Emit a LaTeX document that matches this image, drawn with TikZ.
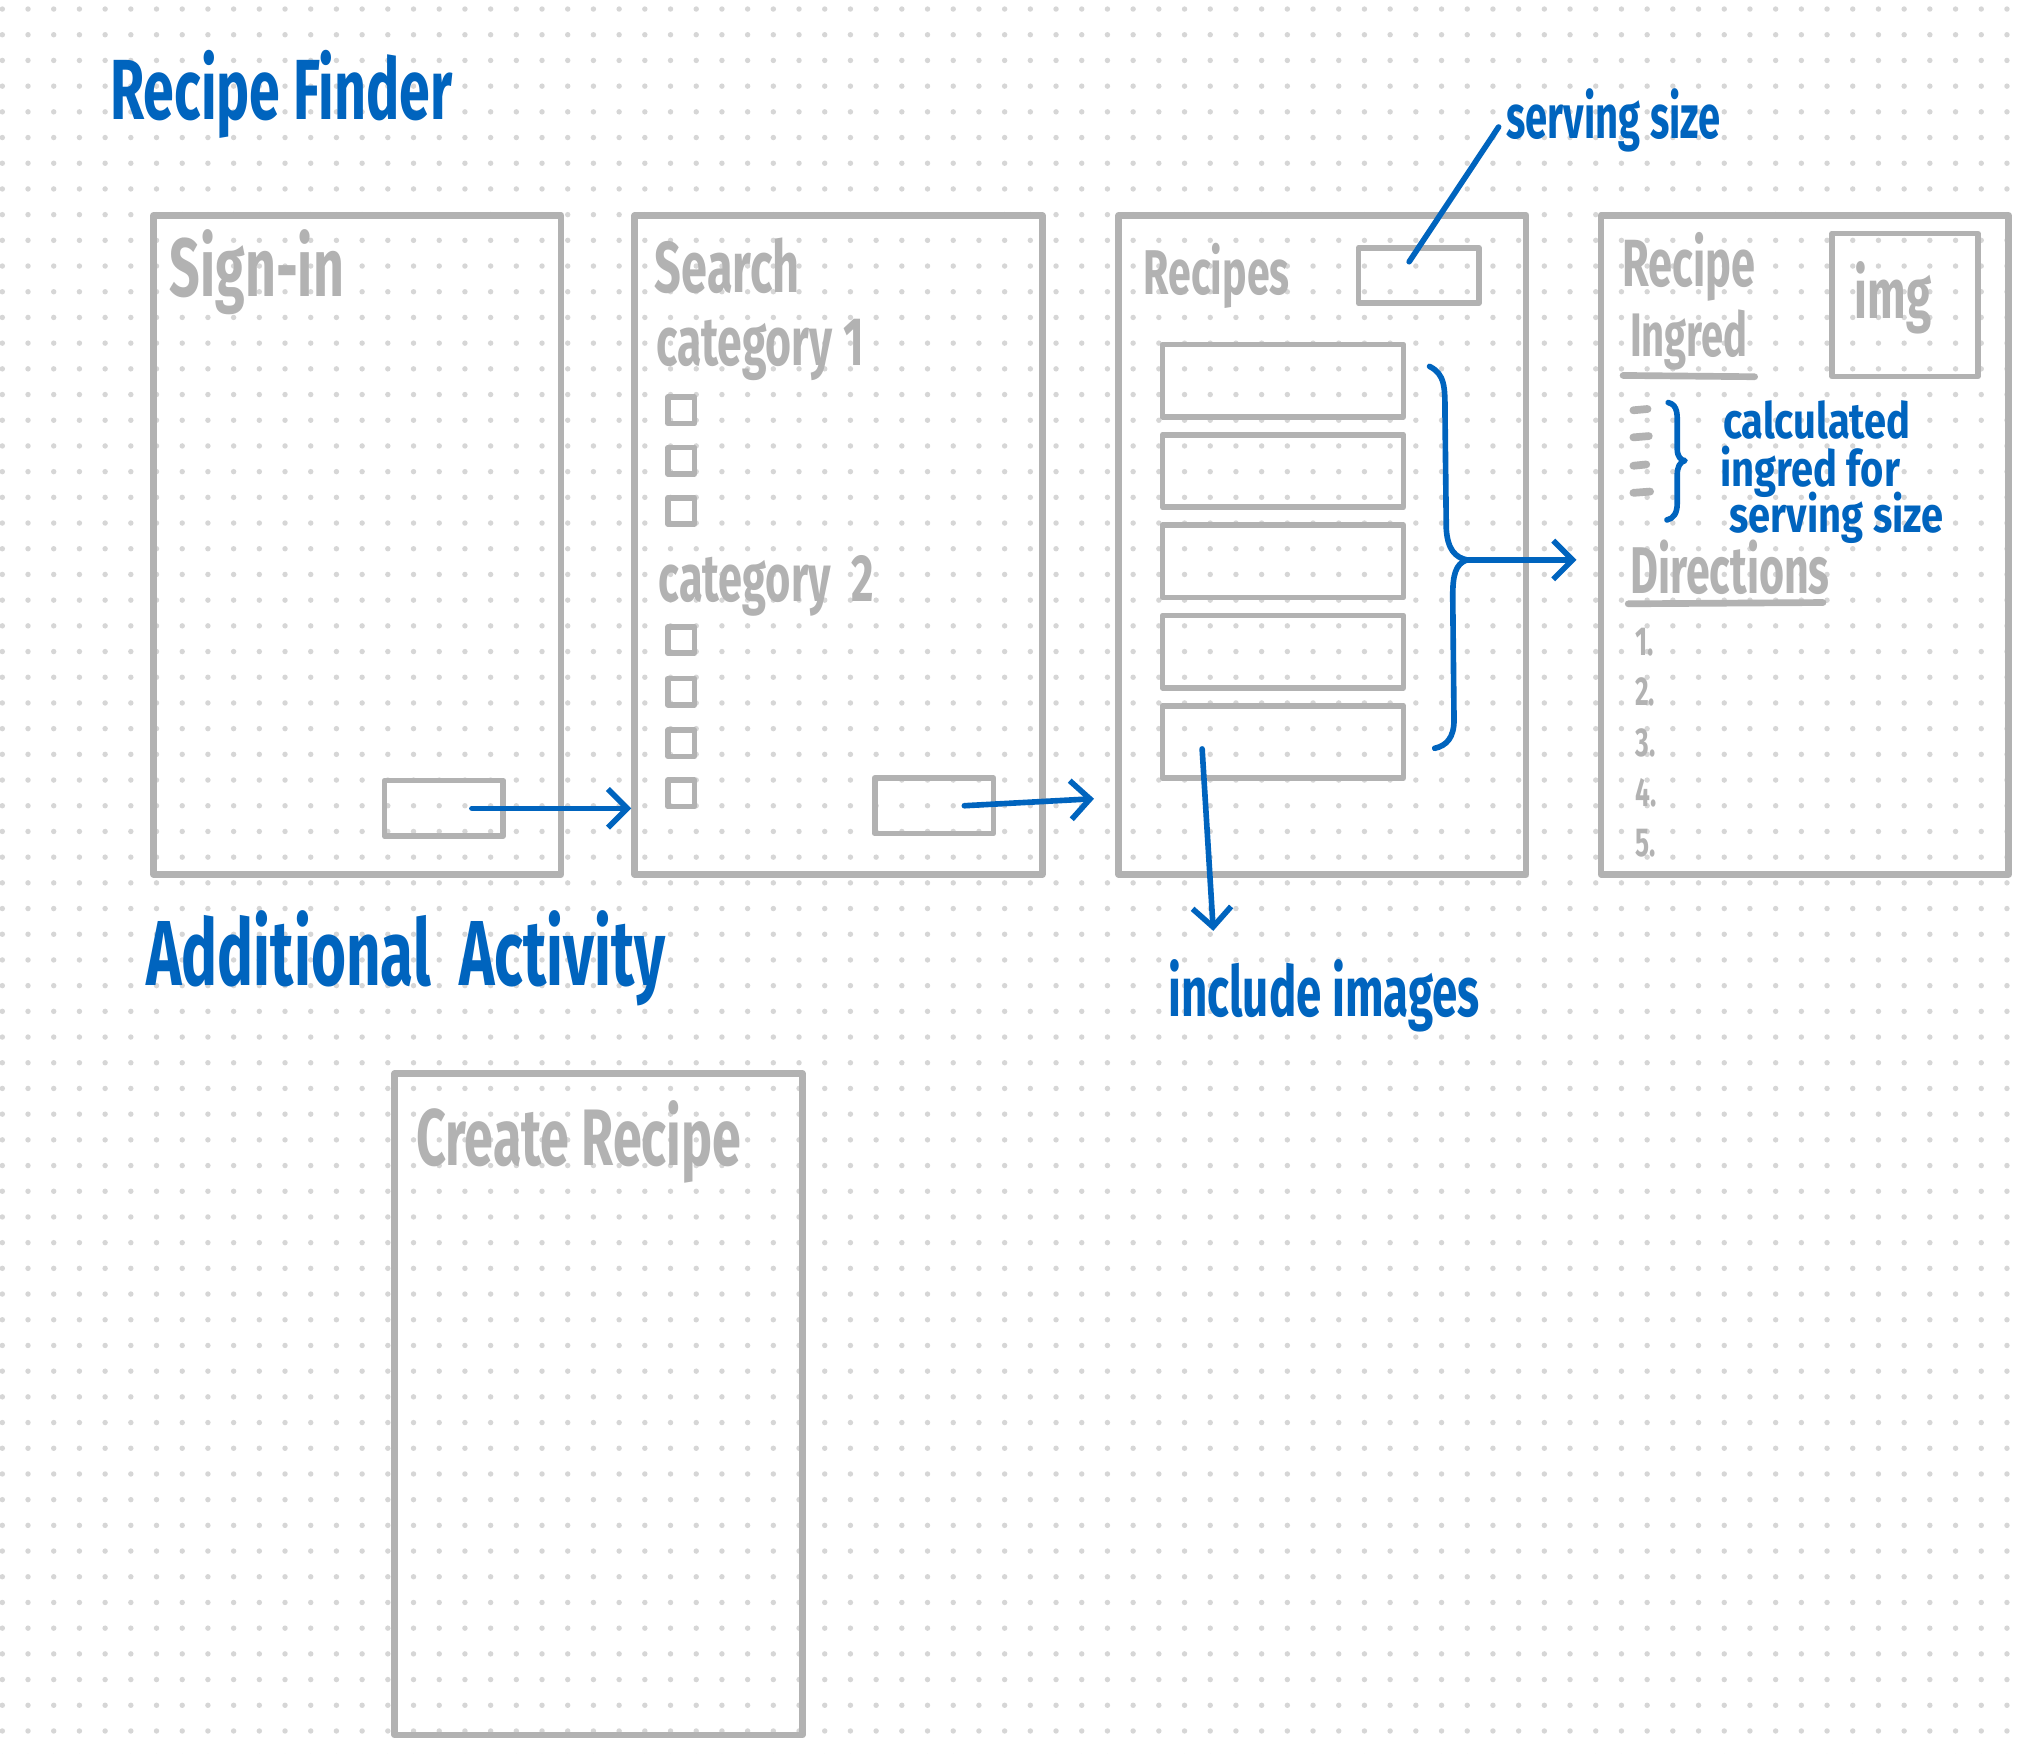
\documentclass[tikz,border=0pt]{standalone}
\usepackage{fontspec}
\usetikzlibrary{arrows.meta,calc}
\definecolor{inkblue}{RGB}{0,100,190}
\definecolor{pencil}{RGB}{178,178,178}
\definecolor{paperdot}{RGB}{214,214,214}
\newfontfamily\handfont[FakeStretch=0.65]{Fira Sans}
\newfontfamily\handwide[FakeStretch=0.8]{Fira Sans}
\newcommand\handsz[1]{\fontsize{#1pt}{#1pt}\selectfont}

\begin{document}
\begin{tikzpicture}[x=0.012902cm,y=-0.012902cm,line cap=round,line join=round,
	screen/.style={draw=pencil,line width=1.9pt,inner sep=0pt,outer sep=0pt,anchor=north west,minimum width=116pt,minimum height=187.6pt},
	btn/.style={draw=pencil,line width=1.6pt,inner sep=0pt,outer sep=0pt,anchor=north west,minimum width=33.8pt,minimum height=15.8pt},
	rowbox/.style={btn,minimum width=68.6pt,minimum height=20.6pt},
	tickbox/.style={draw=pencil,line width=1.6pt,inner sep=0pt,minimum size=7.5pt},
	gtext/.style={text=pencil,font=\handfont\bfseries,anchor=base west,inner sep=0pt},
	btext/.style={text=inkblue,font=\handfont\bfseries,anchor=base west,inner sep=0pt},
	ink/.style={draw=inkblue,line width=1.6pt},
	flow/.style={ink,-{Straight Barb[length=5.5pt,width=11pt]}}]
	% paper
	\useasboundingbox (0,0) rectangle (1568,1359);
	\fill[white] (0,0) rectangle (1568,1359);
	\foreach \i in {0,...,78}
		\foreach \j in {0,...,68}
			\fill[paperdot] (1.8+19.92*\i,7+19.92*\j) circle (2.1);

	\node[btext] (title) at (85,93) {\handsz{24.3}Recipe Finder};

	% screens
	\node[screen] (sign) at (119,167) {};
	\node[screen] (search) at (492,167) {};
	\node[screen] (recipes) at (867,167) {};
	\node[screen] (recipe) at (1241,167) {};

	% sign-in
	\node[gtext] (signlbl) at (131,230) {\handsz{23.5}Sign-in};
	\node[btn] (signbtn) at (298,605) {};

	% search
	\node[gtext] (searchlbl) at (507,227) {\handsz{20.5}Search};
	\node[gtext] (cat1) at (508,283) {\handsz{19.5}category 1};
	\node[gtext] (cat2) at (510,466) {\handsz{19}category~~2};
	\foreach \y [count=\k] in {318,357,396,496,536,576,615}
		\node[tickbox] (tick\k) at (528,\y) {};
	\node[btn] (searchbtn) at (678,603) {};

	% recipes
	\node[gtext] (recipeslbl) at (886,228) {\handsz{18}Recipes};
	\node[btn,minimum width=34.2pt] (servbox) at (1053,192) {};
	\foreach \k in {1,...,5}
		\node[rowbox] (row\k) at (901,{267+70*(\k-1)}) {};

	% recipe
	\node[gtext] (recipelbl) at (1257,222) {\handsz{19}Recipe};
	\node[gtext] (ingredlbl) at (1263,276) {\handsz{17.5}Ingred};
	\draw[pencil,line width=1.9pt] (ingredlbl.base west) ++(-5,15) -- ++(102,1);
	\node[btn,minimum width=41.5pt,minimum height=40.7pt] (imgbox) at (1420,181) {};
	\node[gtext] (imglbl) at (1437,247) {\handsz{20}img};
	\foreach \y/\w in {318/11,339/12,361/10,382/13}
		\draw[pencil,line width=2.2pt] (1266,\y) -- ++(\w,-1);
	\node[gtext] (dirlbl) at (1263,460) {\handsz{18.8}Directions};
	\draw[pencil,line width=1.9pt] (dirlbl.base west) ++(-1,8) -- ++(151,-1);
	\foreach \n [count=\k] in {508,547,586,625,664}
		\node[gtext] (step\k) at (1267,\n) {\handsz{11.5}\k.};

	% notes
	\node[btext] (servlbl) at (1167,107) {\handsz{17.5}serving size};
	\draw[ink] ([xshift=-2.7pt,yshift=3.9pt]servbox.center) -- ([xshift=-2pt,yshift=-2pt]servlbl.west);
	\draw[ink] (1293,312) .. controls (1301,314) and (1300,322) .. (1300,332) -- (1300,348)
		.. controls (1300,354) and (1303,357) .. (1306,357)
		.. controls (1302,358) and (1300,362) .. (1300,368) -- (1300,390)
		.. controls (1300,398) and (1297,402) .. (1292,403);
	\node[btext,font=\handwide\bfseries] (calc1) at (1335,340) {\handsz{14.2}calculated};
	\node[btext,font=\handwide\bfseries] (calc2) at (1333,377) {\handsz{14.2}ingred for};
	\node[btext,font=\handwide\bfseries] (calc3) at (1340,413) {\handsz{14.2}serving size};

	\coordinate (bracetip) at (1137,434);
	\draw[ink] (1108,284) .. controls (1120,290) and (1120,300) .. (1120,320) -- (1121,410)
		.. controls (1122,426) and (1128,432) .. (bracetip)
		.. controls (1128,437) and (1126,446) .. (1126,462) -- (1127,558)
		.. controls (1127,572) and (1121,578) .. (1112,580);
	\draw[flow] (bracetip) -- ([xshift=-7pt]recipe.west |- bracetip);

	\node[btext] (imgs) at (905,788) {\handsz{20}include images};
	\draw[flow] ([xshift=-23pt,yshift=-2pt]row5.center) -- ([xshift=13pt,yshift=8pt]imgs.north west);

	% flow between screens
	\draw[flow] ([xshift=8pt]signbtn.center) -- ([xshift=-1pt]search.west |- signbtn.center);
	\draw[flow] ([xshift=8.6pt]searchbtn.center) -- ([xshift=-7pt,yshift=2pt]recipes.west |- searchbtn.center);

	% additional
	\node[btext] (addlbl) at (113,764) {\handsz{26.3}Additional~~Activity};
	\node[screen,minimum height=188.3pt] (create) at (306,832) {};
	\node[gtext] (createlbl) at (322,903) {\handsz{22.8}Create Recipe};
\end{tikzpicture}
\end{document}
